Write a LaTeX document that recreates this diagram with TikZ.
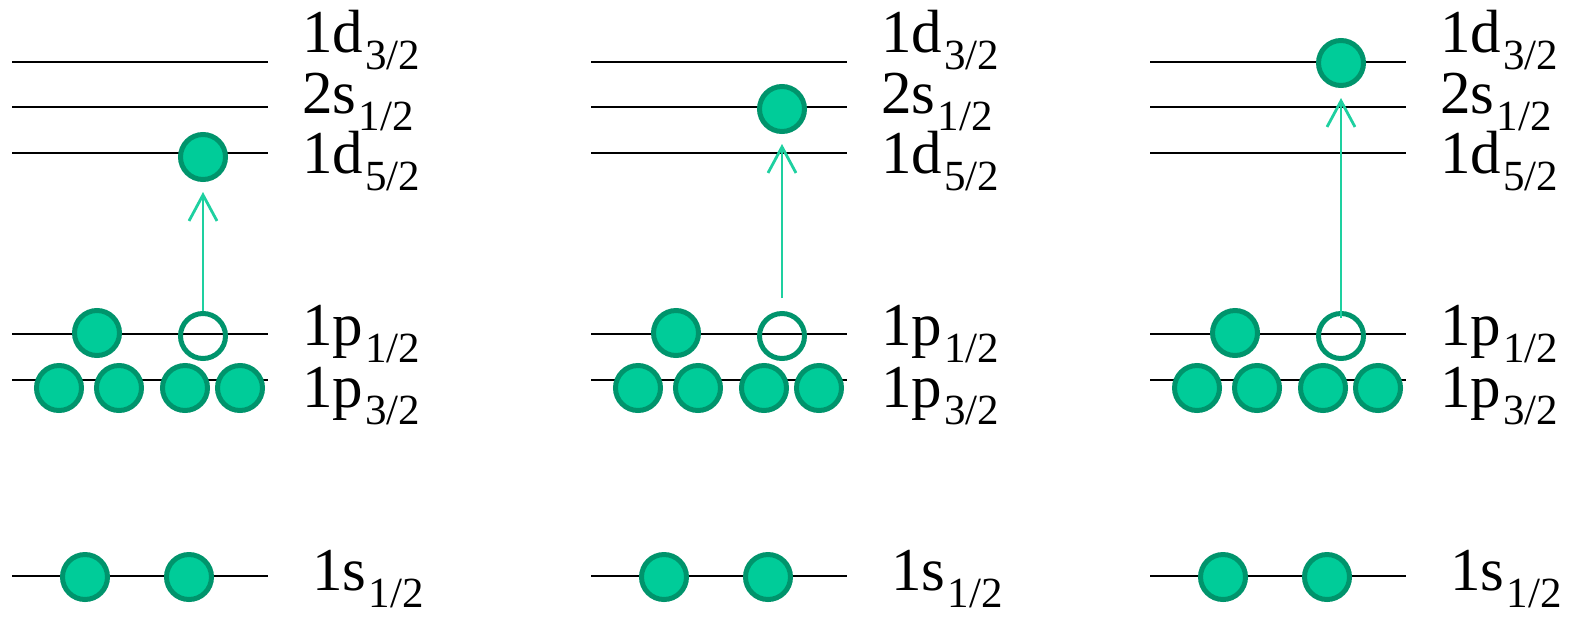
\documentclass[tikz,border=0pt]{standalone}
\usepackage{fontspec}
\setmainfont{Liberation Serif}
\usetikzlibrary{arrows.meta}
\definecolor{nucfill}{RGB}{0,204,153}
\definecolor{nucdraw}{RGB}{0,148,108}
\definecolor{jumpgreen}{RGB}{30,208,160}
\newcommand{\orb}[2]{#1\kern1pt\raisebox{-8.5pt}{\fontsize{21.5}{22}\selectfont #2/2}}
\begin{document}
\begin{tikzpicture}[
    x=0.5pt, y=-0.5pt,
    lvl/.style = {line width=1.1pt},
    nuc/.style = {draw=nucdraw, fill=nucfill, circle, line width=2.5pt,
                  inner sep=0pt, minimum size=22.5pt},
    hole/.style = {nuc, fill=none},
    lbl/.style = {anchor=base west, inner sep=0pt, font=\fontsize{30.5}{36}\selectfont},
    jump/.style = {draw=jumpgreen, line width=1.4pt,
                   -{Straight Barb[length=13pt,width=14pt]}},
  ]
  \useasboundingbox (0,0) rectangle (1574,617);
  \foreach \ox/\ey/\sh [count=\p] in {0/157/0pt, 579/109/6.5pt, 1138/63/-3.5pt} {
    \begin{scope}[xshift=\ox*0.5pt]
      % levels and labels
      \foreach \y in {62,107,153,334,380,576}
        \draw[lvl] (12,\y) -- (268,\y);
      \foreach \lb/\j/\by in {1d/3/52, 2s/1/113, 1d/5/173, 1p/1/345, 1p/3/407}
        \node[lbl] at (302,\by) {\orb{\lb}{\j}};
      \node[lbl] at (312,590) {\orb{1s}{1}};
      % nucleons
      \node[nuc] at (97,333) {};
      \node[hole] (h\p) at (203,336) {};
      \foreach \x in {59,119,185,240}
        \node[nuc] at (\x,388) {};
      \foreach \x in {85,189}
        \node[nuc] at (\x,577) {};
      \node[nuc] (e\p) at (203,\ey) {};
      \draw[jump, shorten <=\sh, shorten >=5pt] (h\p.north) -- (e\p.south);
    \end{scope}
  }
\end{tikzpicture}
\end{document}
